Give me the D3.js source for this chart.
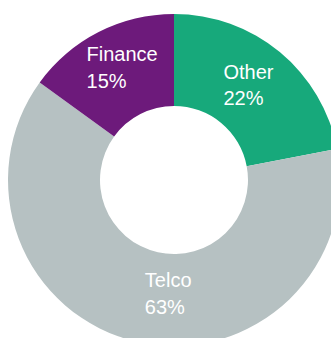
<!DOCTYPE html>
<html>
<head>
<meta charset="utf-8">
<script src="https://cdn.jsdelivr.net/npm/d3@7"></script>
<style>
  html, body { margin: 0; padding: 0; background: #ffffff; }
  svg { display: block; }
  text { font-family: "Liberation Sans", Arial, sans-serif; }
</style>
</head>
<body>
<svg id="chart" width="331" height="338"></svg>
<script>
// Revenue share by sector
const sectors = ["Other", "Telco", "Finance"];
const shares = [22, 63, 15];
const sectorColors = ["#17a97b", "#b6c1c2", "#6d1a7b"];

const width = 331, height = 338;
const cx = 174, cy = 180;
const outerR = 166, innerR = 74;

// Label nudges relative to each slice centroid (left-aligned text)
const labelDx = [-27, -3, -33];
const labelDy = [-9, -10, -12];
const lineGap = 26.5;

const svg = d3.select("#chart");
const g = svg.append("g").attr("transform", `translate(${cx},${cy})`);

const data = sectors.map((s, i) => ({ name: s, value: shares[i], i }));

const pie = d3.pie().sort(null).value(d => d.value).startAngle(0).endAngle(2 * Math.PI);
const arc = d3.arc().innerRadius(innerR).outerRadius(outerR);
const color = d3.scaleOrdinal().domain(sectors).range(sectorColors);

const arcs = pie(data);

g.selectAll("path.slice")
  .data(arcs)
  .join("path")
  .attr("class", "slice")
  .attr("d", arc)
  .attr("fill", d => color(d.data.name));

const labels = g.selectAll("text.label")
  .data(arcs)
  .join("text")
  .attr("class", "label")
  .attr("fill", "#ffffff")
  .attr("font-size", 20)
  .attr("text-anchor", "start");

labels.each(function(d) {
  const [x, y] = arc.centroid(d);
  const t = d3.select(this);
  const lx = x + labelDx[d.data.i];
  const ly = y + labelDy[d.data.i];
  t.append("tspan").attr("x", lx).attr("y", ly).text(d.data.name);
  t.append("tspan").attr("x", lx).attr("y", ly + lineGap).text(d.data.value + "%");
});
</script>
</body>
</html>
